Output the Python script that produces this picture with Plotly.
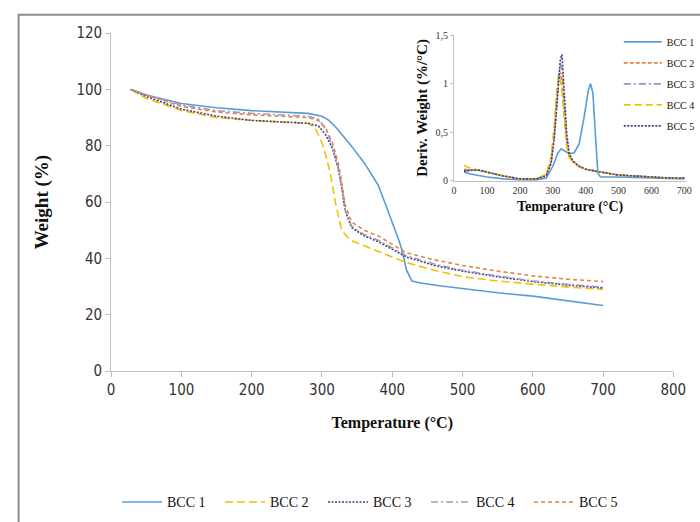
import plotly.graph_objects as go

# ---------------- Main TGA data ----------------
series_names = ["BCC 1", "BCC 2", "BCC 3", "BCC 4", "BCC 5"]

tga_T1 = [28, 50, 100, 150, 200, 250, 280, 300, 310, 320, 330, 340, 360, 380, 390, 400, 410, 415, 420, 428,
          440, 470, 500, 550, 600, 650, 700]
tga_W1 = [100, 98, 95, 93.5, 92.5, 92, 91.5, 90.5, 89, 86.5, 83.5, 80.5, 74, 66, 59.5, 53, 46, 42, 36, 32,
          31.3, 30.2, 29.3, 27.8, 26.6, 25, 23.3]

tga_T2 = [28, 50, 100, 150, 200, 250, 280, 290, 300, 305, 312, 319, 328, 340, 360, 380, 420, 460, 500, 550,
          600, 650, 700]
tga_W2 = [100, 96.8, 92.5, 90, 89, 88.5, 88, 86.5, 81, 77, 70, 60, 50, 46.5, 44.5, 42.5, 38.5, 35.8, 33.5, 32,
          30.8, 29.8, 29]

tga_T345 = [28, 50, 100, 150, 200, 250, 280, 295, 305, 315, 323, 328, 333, 342, 360, 380, 420, 460, 500, 550,
            600, 650, 700]
tga_W3 = [100, 97.5, 93, 90.5, 89, 88.5, 88, 87, 84, 79, 72, 65.5, 57, 51, 48, 46, 40.5, 37.5, 35.5, 33.5,
          31.8, 30.5, 29.5]
tga_W4 = [100, 98, 94.5, 92.5, 91.5, 91, 90.5, 89.5, 86, 80, 72, 65, 57, 51.5, 48.5, 46.5, 41, 38, 35.8, 33.8,
          32, 30.8, 29.8]
tga_W5 = [100, 98, 94, 92, 91, 90.5, 90, 89, 86.5, 81, 74, 67, 59, 53, 50, 48, 42, 39.5, 37.5, 35.5,
          33.8, 32.6, 31.8]

# ---------------- Inset DTG data ----------------
dtg_T1 = [30, 50, 100, 150, 200, 250, 280, 300, 315, 325, 335, 350, 365, 380, 395, 408, 415, 422, 430, 437,
          445, 500, 600, 700]
dtg_D1 = [0.09, 0.07, 0.04, 0.02, 0.01, 0.01, 0.03, 0.15, 0.28, 0.33, 0.31, 0.28, 0.29, 0.38, 0.65, 0.93, 1.0,
          0.9, 0.45, 0.08, 0.04, 0.04, 0.03, 0.02]

dtg_T = [30, 50, 75, 100, 150, 200, 250, 280, 295, 305, 312, 318, 323, 328, 335, 342, 350, 360, 380, 400, 430,
         460, 500, 550, 600, 650, 700]
dtg_D2 = [0.12, 0.11, 0.11, 0.09, 0.05, 0.02, 0.02, 0.06, 0.2, 0.5, 0.85, 1.05, 1.12, 1.0, 0.7, 0.4, 0.25, 0.2,
          0.15, 0.12, 0.1, 0.08, 0.06, 0.05, 0.04, 0.03, 0.03]
dtg_D3 = [0.1, 0.11, 0.11, 0.09, 0.05, 0.02, 0.02, 0.06, 0.2, 0.5, 0.85, 1.1, 1.2, 1.15, 0.8, 0.45, 0.26, 0.2,
          0.15, 0.12, 0.1, 0.08, 0.06, 0.05, 0.04, 0.03, 0.03]
dtg_D4 = [0.16, 0.13, 0.11, 0.09, 0.05, 0.02, 0.02, 0.07, 0.25, 0.6, 0.95, 1.08, 1.05, 0.9, 0.6, 0.35, 0.24, 0.2,
          0.15, 0.12, 0.1, 0.08, 0.06, 0.05, 0.04, 0.03, 0.03]
dtg_D5 = [0.1, 0.11, 0.11, 0.09, 0.05, 0.02, 0.02, 0.05, 0.18, 0.45, 0.8, 1.1, 1.25, 1.3, 0.95, 0.5, 0.28, 0.21,
          0.15, 0.12, 0.1, 0.08, 0.06, 0.05, 0.04, 0.03, 0.03]

main_xticks = [0, 100, 200, 300, 400, 500, 600, 700, 800]
main_yticks = [0, 20, 40, 60, 80, 100, 120]
inset_xticks = [0, 100, 200, 300, 400, 500, 600, 700]
inset_yticks = [0, 0.5, 1, 1.5]
inset_yticklabels = ["0", "0,5", "1", "1,5"]

BLUE = "#5B9BD5"
YELLOW = "#F2C200"
PURPLE = "#4A3B7C"
GREYDD = "#9C9CBF"
ORANGE = "#E0874A"

W, H = 700, 522


def px_x(p):
    return p / W


def px_y(p):
    return 1 - p / H


fig = go.Figure()

# main traces
main_specs = [
    (tga_T1, tga_W1, BLUE, "solid"),
    (tga_T2, tga_W2, YELLOW, "8px,4px"),
    (tga_T345, tga_W3, PURPLE, "2px,1.5px"),
    (tga_T345, tga_W4, GREYDD, "7px,3px,2px,3px"),
    (tga_T345, tga_W5, ORANGE, "4px,3px"),
]
for name, (tx, wy, col, dash) in zip(series_names, main_specs):
    fig.add_trace(go.Scatter(x=tx, y=wy, mode="lines", name=name, legend="legend",
                             line=dict(color=col, width=1.6, dash=dash),
                             xaxis="x", yaxis="y"))

# inset traces
inset_specs = [
    (dtg_T1, dtg_D1, BLUE, "solid"),
    (dtg_T, dtg_D2, ORANGE, "4px,2px"),
    (dtg_T, dtg_D3, "#8A9AB8", "7px,3px,2px,3px"),
    (dtg_T, dtg_D4, YELLOW, "7px,4px"),
    (dtg_T, dtg_D5, PURPLE, "2px,1.5px"),
]
for i, (name, (tx, dy, col, dash)) in enumerate(zip(series_names, inset_specs)):
    fig.add_trace(go.Scatter(x=tx, y=dy, mode="lines", name=name, legend="legend2",
                             legendgroup="inset%d" % i,
                             line=dict(color=col, width=1.6, dash=dash),
                             xaxis="x2", yaxis="y2"))

serif = "Liberation Serif, Times New Roman, serif"
narrow = "Liberation Sans Narrow, DejaVu Sans Condensed, Arial Narrow, sans-serif"

fig.update_layout(
    width=W, height=H,
    margin=dict(l=0, r=0, t=0, b=0),
    paper_bgcolor="white", plot_bgcolor="white",
    xaxis=dict(domain=[px_x(110), px_x(687)], range=[0, 800], tickvals=main_xticks,
               showline=True, linecolor="#BFBFBF", linewidth=1, ticks="outside", ticklen=5,
               tickcolor="#BFBFBF", showgrid=False, zeroline=False,
               tickfont=dict(family=narrow, size=15, color="#333"),
               title=dict(text="<b>Temperature (°C)</b>", standoff=18,
                          font=dict(family=serif, size=16, color="#111")),
               anchor="y"),
    yaxis=dict(domain=[px_y(375), px_y(25)], range=[0, 120], tickvals=main_yticks,
               showline=True, linecolor="#BFBFBF", linewidth=1, ticks="outside", ticklen=5,
               tickcolor="#BFBFBF", showgrid=False, zeroline=False,
               tickfont=dict(family=narrow, size=15, color="#333"),
               title=dict(text="<b>Weight (%)</b>", standoff=22,
                          font=dict(family=serif, size=19, color="#111")),
               anchor="x"),
    xaxis2=dict(domain=[px_x(462), 1.0], range=[0, 705], tickvals=inset_xticks,
                showline=True, linecolor="#BFBFBF", linewidth=1, ticks="", showgrid=False,
                zeroline=False, tickfont=dict(family=serif, size=10, color="#333"),
                title=dict(text="<b>Temperature (°C)</b>", standoff=6,
                           font=dict(family=serif, size=14, color="#111")),
                anchor="y2"),
    yaxis2=dict(domain=[px_y(178), px_y(27)], range=[0, 1.5], tickvals=inset_yticks,
                ticktext=inset_yticklabels,
                showline=True, linecolor="#BFBFBF", linewidth=1, ticks="outside", ticklen=3,
                tickcolor="#BFBFBF", showgrid=False, zeroline=False,
                tickfont=dict(family=serif, size=10, color="#333"),
                title=dict(text="<b>Deriv. Weight (%/°C)</b>", standoff=4,
                           font=dict(family=serif, size=15, color="#111")),
                anchor="x2"),
    legend=dict(orientation="h", x=px_x(116), xanchor="left", y=px_y(511), yanchor="middle",
                font=dict(family=serif, size=14, color="#111"), itemwidth=40,
                entrywidth=48, bgcolor="rgba(0,0,0,0)", traceorder="normal"),
    legend2=dict(orientation="v", x=px_x(631), xanchor="left", y=px_y(19), yanchor="top",
                 font=dict(family=serif, size=10, color="#111"), itemwidth=38,
                 tracegroupgap=2, bgcolor="rgba(0,0,0,0)", traceorder="grouped"),
    showlegend=True,
    shapes=[dict(type="rect", xref="paper", yref="paper", x0=px_x(15), x1=1.05,
                 y0=-0.05, y1=px_y(6), line=dict(color="#8C8C8C", width=2),
                 fillcolor="rgba(0,0,0,0)", layer="above")],
)

fig.write_html("out.html", config={"displayModeBar": False},
               post_script="document.body.style.margin='0px';")
